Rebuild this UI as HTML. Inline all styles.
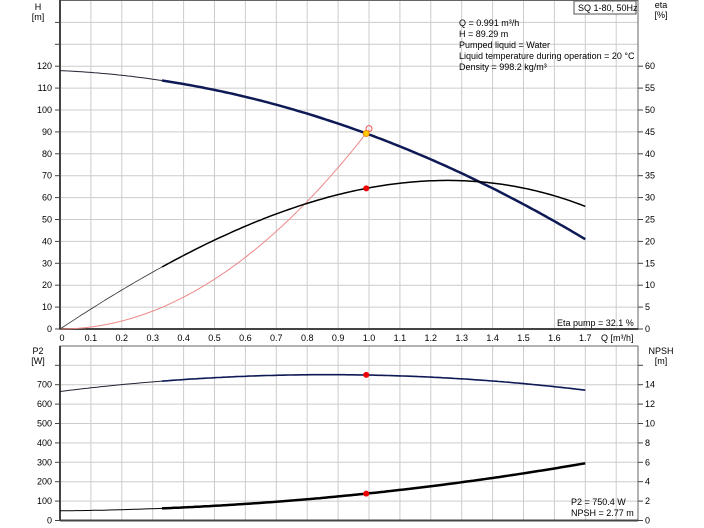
<!DOCTYPE html>
<html><head><style>body{margin:0;background:#fff}svg{display:block;font-family:"Liberation Sans",sans-serif;font-size:9px}</style></head>
<body>
<svg id="s" width="704" height="528" xmlns="http://www.w3.org/2000/svg"></svg>
<script>
const s=document.getElementById('s');let h='';
const X=q=>60+309*q;
const T0=329,TS=2.19; const yH=v=>T0-TS*v; const yE=v=>T0-TS*2*v;
const B0=520.5,yP=v=>B0-v*0.194,yN=v=>B0-v*9.7;
// grids
for(let i=1;i<=18;i++){const x=X(i/10);h+=`<line x1="${x}" y1="0" x2="${x}" y2="${T0}" stroke="#ccc"/><line x1="${x}" y1="346" x2="${x}" y2="${B0}" stroke="#ccc"/>`;}
for(let v=10;v<=150;v+=10){const y=yH(v);h+=`<line x1="60" y1="${y}" x2="638" y2="${y}" stroke="#ccc"/>`;}
for(let v=100;v<=800;v+=100){const y=yP(v);h+=`<line x1="60" y1="${y}" x2="638" y2="${y}" stroke="#ccc"/>`;}
// frames
h+=`<rect x="60" y="0.5" width="578" height="${T0}" fill="none" stroke="#666"/><rect x="60" y="346" width="578" height="${B0-346}" fill="none" stroke="#666"/>`;
h+=`<line x1="60" y1="0" x2="60" y2="${T0}" stroke="#444" stroke-width="2"/><line x1="60" y1="${T0}" x2="638" y2="${T0}" stroke="#444" stroke-width="2"/>`;
h+=`<line x1="60" y1="346" x2="60" y2="${B0}" stroke="#444" stroke-width="2"/><line x1="60" y1="${B0}" x2="638" y2="${B0}" stroke="#444" stroke-width="2"/>`;
// left ticks top
for(let v=0;v<=140;v+=10){const y=yH(v);h+=`<line x1="55" y1="${y}" x2="60" y2="${y}" stroke="#444"/>`;if(v<=120)h+=`<text x="52" y="${y+3}" text-anchor="end">${v}</text>`;}
for(let v=0;v<=60;v+=5){const y=yE(v);h+=`<line x1="638" y1="${y}" x2="643" y2="${y}" stroke="#444"/><text x="645" y="${y+3}">${v}</text>`;}
for(let v=0;v<=800;v+=100){const y=yP(v);h+=`<line x1="55" y1="${y}" x2="60" y2="${y}" stroke="#444"/>`;if(v<=700)h+=`<text x="52" y="${y+3}" text-anchor="end">${v}</text>`;}
for(let v=0;v<=16;v+=2){const y=yN(v);h+=`<line x1="638" y1="${y}" x2="643" y2="${y}" stroke="#444"/>`;if(v<=14)h+=`<text x="645" y="${y+3}">${v}</text>`;}
// x labels
for(let i=0;i<=17;i++){const q=i/10;h+=`<text x="${X(q)+(i?0:2)}" y="341" text-anchor="middle">${i==0?'0':q.toFixed(1)}</text>`;}
h+=`<text x="601" y="341">Q [m³/h]</text>`;
h+=`<text x="38" y="10" text-anchor="middle">H</text><text x="38" y="20" text-anchor="middle">[m]</text>`;
h+=`<text x="661" y="8" text-anchor="middle">eta</text><text x="661" y="18" text-anchor="middle">[%]</text>`;
h+=`<text x="38" y="354" text-anchor="middle">P2</text><text x="38" y="364" text-anchor="middle">[W]</text>`;
h+=`<text x="661" y="354" text-anchor="middle">NPSH</text><text x="661" y="364" text-anchor="middle">[m]</text>`;
h+=`<rect x="574" y="1" width="62" height="13" fill="#fff" stroke="#555"/><text x="578" y="11">SQ 1-80, 50Hz</text>`;
const info=["Q = 0.991 m³/h","H = 89.29 m","Pumped liquid = Water","Liquid temperature during operation = 20 °C","Density = 998.2 kg/m³"];
info.forEach((t,i)=>h+=`<text x="459" y="${26+i*11}">${t}</text>`);
h+=`<text x="557" y="326">Eta pump = 32.1 %</text>`;
h+=`<text x="571" y="505">P2 = 750.4 W</text><text x="571" y="516">NPSH = 2.77 m</text>`;
function curve(f,yf,a,b,col,w){let p=[];for(let q=a;q<=b+1e-9;q+=0.01)p.push(X(q).toFixed(1)+','+yf(f(q)).toFixed(1));return `<polyline points="${p.join(' ')}" fill="none" stroke="${col}" stroke-width="${w}"/>`;}
const H=q=>118-6.15*q-23.03*q*q, E=q=>46.58*q-9.57*q*q-4.79*q*q*q, P=q=>665+199.9*q-115.2*q*q, N=q=>1+0.253*q+1.547*q*q;
h+=curve(q=>91*q*q,yH,0,1.0,'#e88',1);
h+=curve(H,yH,0,0.33,'#223',1)+curve(H,yH,0.33,1.7,'#0e1a55',2.5);
h+=curve(E,yE,0,0.33,'#333',0.8)+curve(E,yE,0.33,1.7,'#000',1.5);
h+=curve(P,yP,0,0.33,'#223',1)+curve(P,yP,0.33,1.7,'#0e1a55',1.6);
h+=curve(N,yN,0,0.33,'#000',1)+curve(N,yN,0.33,1.7,'#000',2.5);
h+=`<circle cx="${X(1.0)}" cy="${yH(91.5)}" r="3" fill="none" stroke="#e55"/>`;
h+=`<circle cx="${X(0.991)}" cy="${yH(89.29)}" r="3" fill="#fc0" stroke="#e80"/>`;
h+=`<circle cx="${X(0.991)}" cy="${yE(32.1)}" r="3" fill="#e00"/>`;
h+=`<circle cx="${X(0.991)}" cy="${yP(750.4)}" r="3" fill="#e00"/>`;
h+=`<circle cx="${X(0.991)}" cy="${yN(2.77)}" r="3" fill="#e00"/>`;
s.innerHTML=h;
</script>
</body></html>
